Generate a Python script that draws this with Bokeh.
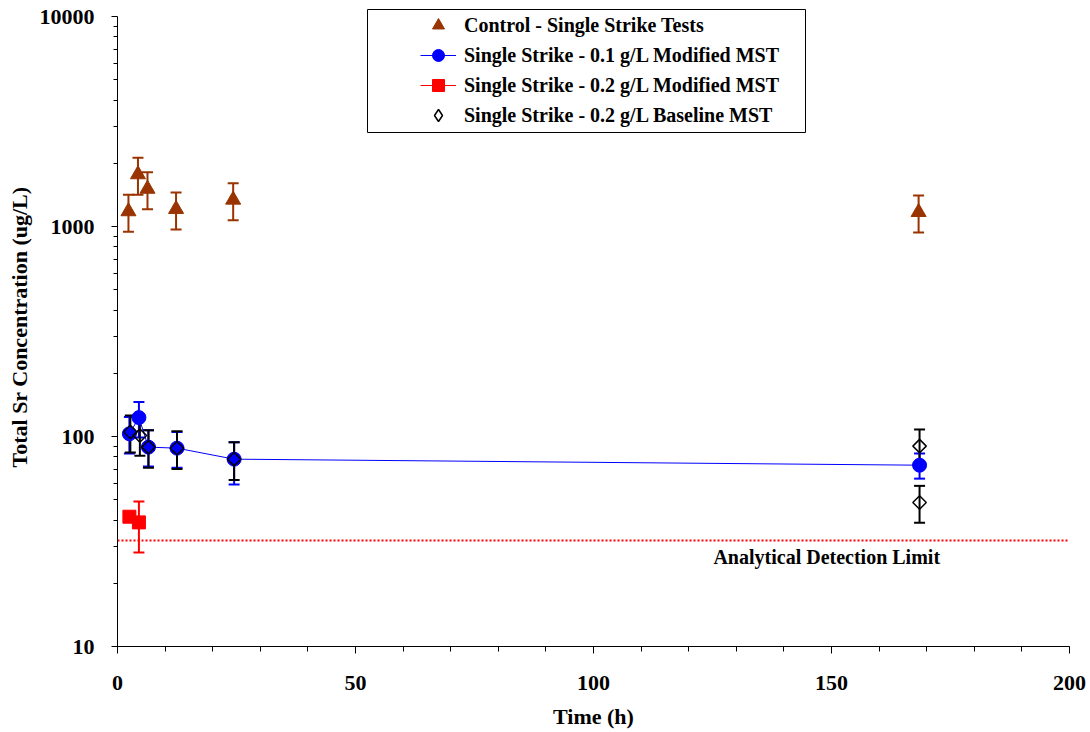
import numpy as np
from bokeh.plotting import figure
from bokeh.models import (ColumnDataSource, Whisker, TeeHead, Legend, LegendItem,
                          FixedTicker, Span, Range1d, NumeralTickFormatter, BoxAnnotation)
from bokeh.embed import file_html
from bokeh.resources import INLINE
from bokeh.core.properties import value

# ---------------- data ----------------
x_ticks = [0, 50, 100, 150, 200]
y_ticks = [10, 100, 1000, 10000]
x_label = "Time (h)"
y_label = "Total Sr Concentration (ug/L)"

control_name = "Control - Single Strike Tests"
control_time = [2.3, 4.3, 6.3, 12.3, 24.3, 168.3]
control_sr = [1180, 1770, 1510, 1210, 1340, 1170]
control_low = [944, 1416, 1208, 968, 1072, 936]
control_high = [1416, 2124, 1812, 1452, 1608, 1404]

mod01_name = "Single Strike - 0.1 g/L Modified MST"
mod01_time = [2.5, 4.5, 6.5, 12.5, 24.5, 168.5]
mod01_sr = [103, 123, 89, 88, 78, 73]
mod01_low = [83, 99, 72, 71, 59, 63]
mod01_high = [124, 146, 107, 105, 94, 83]

mod02_name = "Single Strike - 0.2 g/L Modified MST"
mod02_time = [2.5, 4.5]
mod02_sr = [41.5, 39]
mod02_low = [39.5, 28]
mod02_high = [43.5, 49]

base_name = "Single Strike - 0.2 g/L Baseline MST"
base_time = [2.7, 4.7, 6.5, 12.5, 24.5, 168.5, 168.5]
base_sr = [105, 101, 89, 88, 78, 90, 48.5]
base_low = [84, 81, 71, 70, 62, 72, 38.8]
base_high = [126, 121, 107, 106, 94, 108, 58.2]

detection_limit = 32
detection_text = "Analytical Detection Limit"
detection_text_x = 149

# ---------------- styles ----------------
FONT = "Liberation Serif"
BROWN = "#993300"
BLUE = "#0000FF"
RED = "#FF0000"
BLACK = "#000000"

Y_MIN, Y_MAX = 10, 10000
TOP_PAD_PX = 9          # room above the 10000 line for the legend box
PX_PER_DECADE = 210

p = figure(width=1090, height=732, y_axis_type="log",
           x_range=Range1d(0, 200),
           y_range=Range1d(Y_MIN, Y_MAX * 10 ** (TOP_PAD_PX / PX_PER_DECADE)),
           output_backend="svg", toolbar_location=None,
           min_border_left=117, min_border_right=21,
           min_border_top=16 - TOP_PAD_PX, min_border_bottom=86)
p.outline_line_color = None
p.xgrid.visible = False
p.ygrid.visible = False
p.background_fill_color = "white"
p.border_fill_color = "white"


def whiskers(t, lo, hi, color):
    src = ColumnDataSource(dict(x=t, lower=lo, upper=hi))
    w = Whisker(base="x", lower="lower", upper="upper", source=src,
                line_color=color, line_width=2,
                upper_head=TeeHead(size=11, line_color=color, line_width=2),
                lower_head=TeeHead(size=11, line_color=color, line_width=2))
    p.add_layout(w)


# control
whiskers(control_time, control_low, control_high, BROWN)
r_ctrl = p.scatter(control_time, control_sr, marker="triangle", size=15,
                   fill_color=BROWN, line_color=BROWN)

# 0.1 g/L modified
whiskers(mod01_time, mod01_low, mod01_high, BLUE)
l_mod01 = p.line(mod01_time, mod01_sr, line_color=BLUE, line_width=1)
s_mod01 = p.scatter(mod01_time, mod01_sr, marker="circle", size=14,
                    fill_color=BLUE, line_color=BLUE)

# 0.2 g/L modified
whiskers(mod02_time, mod02_low, mod02_high, RED)
l_mod02 = p.line(mod02_time, mod02_sr, line_color=RED, line_width=1)
s_mod02 = p.scatter(mod02_time, mod02_sr, marker="square", size=13,
                    fill_color=RED, line_color=RED)

# 0.2 g/L baseline (rotated squares = equal-sided diamonds)
whiskers(base_time, base_low, base_high, BLACK)
s_base = p.scatter(base_time, base_sr, marker="square", angle=np.pi / 4, size=9.5,
                   fill_alpha=0, line_color=BLACK, line_width=1.5)
# hidden twin used only for the legend swatch (legend ignores marker angle)
s_base_leg = p.scatter(base_time, base_sr, marker="diamond", size=13,
                       fill_alpha=0, line_color=BLACK, line_width=1.5, visible=False)

# detection limit
p.add_layout(Span(location=detection_limit, dimension="width",
                  line_color=RED, line_width=2, line_dash="2 2"))
p.text(x=[detection_text_x], y=[detection_limit], text=[detection_text],
       text_font=value(FONT), text_font_style="bold", text_font_size="20px",
       text_align="center", text_baseline="top", y_offset=6, text_color=BLACK)

# axes
for ax in (p.xaxis[0], p.yaxis[0]):
    ax.axis_line_color = BLACK
    ax.axis_line_width = 1
    ax.major_tick_line_color = BLACK
    ax.minor_tick_line_color = BLACK
    ax.major_label_text_font = FONT
    ax.major_label_text_font_style = "bold"
    ax.major_label_text_font_size = "22px"
    ax.major_label_text_color = BLACK
    ax.axis_label_text_font = FONT
    ax.axis_label_text_font_style = "bold"
    ax.axis_label_text_font_size = "22px"
    ax.axis_label_text_color = BLACK
    ax.major_tick_in = 0
    ax.minor_tick_in = 0

p.xaxis.ticker = FixedTicker(ticks=x_ticks, minor_ticks=list(range(0, 201, 10)))
p.xaxis.major_tick_out = 7
p.xaxis.minor_tick_out = 5
p.xaxis.major_label_standoff = 22
p.xaxis.axis_label = x_label
p.xaxis.axis_label_standoff = 11

minor_y = [m * d for d in (10, 100, 1000) for m in range(2, 10)]
p.yaxis.ticker = FixedTicker(ticks=y_ticks, minor_ticks=minor_y)
p.yaxis.formatter = NumeralTickFormatter(format="0")
p.yaxis.bounds = (Y_MIN, Y_MAX)
p.yaxis.major_tick_out = 6
p.yaxis.minor_tick_out = 4
p.yaxis.major_label_standoff = 17
p.yaxis.axis_label = y_label
p.yaxis.axis_label_standoff = 5

# legend frame (drawn separately so it can be wider on the left);
# screen units: x from frame left, y from frame bottom
p.add_layout(BoxAnnotation(left=250, right=688, top=637, bottom=514,
                           left_units="screen", right_units="screen",
                           top_units="screen", bottom_units="screen",
                           fill_color="white", fill_alpha=1,
                           line_color=BLACK, line_alpha=1, line_width=1))

legend = Legend(items=[
    LegendItem(label=control_name, renderers=[r_ctrl]),
    LegendItem(label=mod01_name, renderers=[l_mod01, s_mod01]),
    LegendItem(label=mod02_name, renderers=[l_mod02, s_mod02]),
    LegendItem(label=base_name, renderers=[s_base_leg]),
], location=(301, 514))
legend.label_text_font = FONT
legend.label_text_font_style = "bold"
legend.label_text_font_size = "20px"
legend.label_text_color = BLACK
legend.glyph_width = 36
legend.glyph_height = 30
legend.spacing = 0
legend.padding = 2
legend.margin = 0
legend.label_standoff = 8
legend.border_line_alpha = 0
legend.background_fill_alpha = 0
p.add_layout(legend)

open("out.html", "w").write(file_html(p, INLINE))
